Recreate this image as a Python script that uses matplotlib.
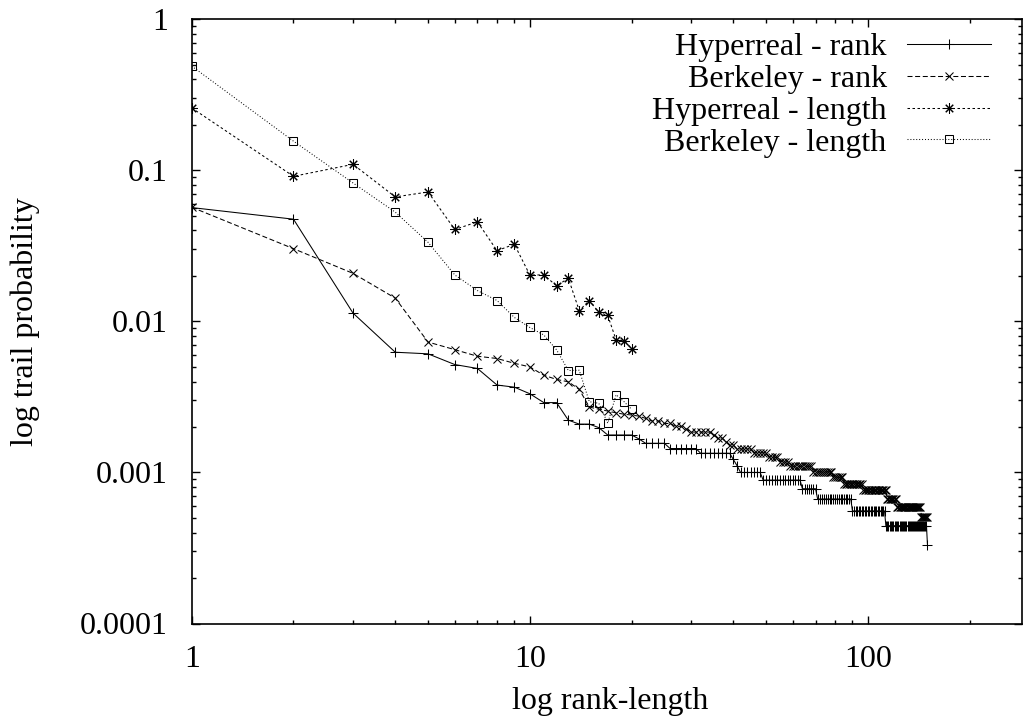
import numpy as np
import matplotlib
matplotlib.use("Agg")
import matplotlib.pyplot as plt
from matplotlib.ticker import LogLocator, FuncFormatter, NullFormatter

# Hyperreal - rank: probabilities as plateaus (value, number of ranks)
hyper_rank_levels = [0.0567, 0.0475, 0.01135, 0.00625, 0.0061, 0.00518, 0.00488, 0.00379,
                     0.00367, 0.00332, 0.0029, 0.0029, 0.00222, 0.00209, 0.00209, 0.00198,
                     0.00177, 0.00167, 0.00156, 0.00144, 0.00134, 0.00122, 0.00111, 0.001,
                     0.00089, 0.00078, 0.000667, 0.000556, 0.000444, 0.000333]
hyper_rank_runs = [1] * 16 + [4, 1, 4, 6, 8, 1, 1, 7, 15, 7, 19, 23, 37, 1]

# Berkeley - rank
berk_rank_levels = [0.057, 0.0303, 0.0208, 0.01426, 0.0073, 0.0065, 0.00588, 0.00568, 0.00528,
                    0.005, 0.0044, 0.00413, 0.00398, 0.00355, 0.00271, 0.00262, 0.00255, 0.00248,
                    0.00243, 0.0024, 0.00236, 0.00228, 0.00219, 0.00219, 0.00211, 0.00211,
                    0.00202, 0.00202, 0.00194,
                    0.00185, 0.00177, 0.00169, 0.0016, 0.00152, 0.00143, 0.00135, 0.00126,
                    0.00118, 0.0011, 0.00101, 0.00093, 0.00084, 0.00076, 0.00067, 0.00059, 0.00051]
berk_rank_runs = [1] * 29 + [5, 1, 2, 1, 2, 5, 5, 4, 4, 10, 10, 6, 12, 17, 8, 22, 7]

# length series, lengths 1..20
hyper_length = [0.259, 0.0913, 0.1096, 0.0667, 0.0719, 0.0406, 0.0456, 0.0294, 0.0324, 0.0203,
                0.0203, 0.0172, 0.0193, 0.0118, 0.01375, 0.01146, 0.01096, 0.00754, 0.00746, 0.00661]
berk_length = [0.49, 0.156, 0.0825, 0.0529, 0.0334, 0.0203, 0.016, 0.01375, 0.01062, 0.00912,
               0.00813, 0.00648, 0.00473, 0.00475, 0.00294, 0.00287, 0.00212, 0.00327, 0.00294, 0.00262]

hyper_rank = np.repeat(hyper_rank_levels, hyper_rank_runs)
berk_rank = np.repeat(berk_rank_levels, berk_rank_runs)

plt.rcParams['font.family'] = ['Liberation Serif', 'DejaVu Serif']
plt.rcParams['lines.scale_dashes'] = False

W, H = 1023, 719
fig = plt.figure(figsize=(W / 100, H / 100), dpi=100)
# plot box in pixels: left 191.7, right 1021.7, top 19.3, bottom 623.5
ax = fig.add_axes([191.7 / W, 1 - 623.5 / H, 830 / W, 604.2 / H])

lw = 0.75
ms = 7.5
ax.plot(np.arange(1, len(hyper_rank) + 1), hyper_rank, color='black', lw=lw,
        marker='+', ms=ms, mew=lw, label='Hyperreal - rank')
ax.plot(np.arange(1, len(berk_rank) + 1), berk_rank, color='black', lw=lw,
        ls=(0, (3.6, 1.9)), marker='x', ms=ms * 0.8, mew=lw, label='Berkeley - rank')
ax.plot(np.arange(1, len(hyper_length) + 1), hyper_length, color='black', lw=lw,
        ls=(0, (1.8, 1.8)), marker=(8, 2, 0), ms=ms, mew=lw, label='Hyperreal - length')
ax.plot(np.arange(1, len(berk_length) + 1), berk_length, color='black', lw=lw,
        ls=(0, (0.7, 1.4)), marker='s', ms=ms * 0.75, mew=lw, mfc='none', mec='black',
        label='Berkeley - length')

ax.set_xscale('log')
ax.set_yscale('log')
ax.set_xlim(1, 285)
ax.set_ylim(1e-4, 1)

fmt = FuncFormatter(lambda v, _: '{:g}'.format(v))
ax.xaxis.set_major_locator(LogLocator(base=10, numticks=10))
ax.yaxis.set_major_locator(LogLocator(base=10, numticks=10))
ax.xaxis.set_major_formatter(fmt)
ax.yaxis.set_major_formatter(fmt)
ax.xaxis.set_minor_locator(LogLocator(base=10, subs=np.arange(2, 10), numticks=20))
ax.yaxis.set_minor_locator(LogLocator(base=10, subs=np.arange(2, 10), numticks=20))
ax.xaxis.set_minor_formatter(NullFormatter())
ax.yaxis.set_minor_formatter(NullFormatter())

fs = 23
ax.tick_params(which='both', direction='in', top=True, right=True, labelsize=fs, width=1.0)
ax.tick_params(which='major', length=6)
ax.tick_params(which='minor', length=3)
ax.tick_params(axis='y', pad=17)
ax.tick_params(axis='x', pad=15.8)
for s in ax.spines.values():
    s.set_linewidth(1.2)

ax.set_xlabel('log rank-length', fontsize=fs)
ax.set_ylabel('log trail probability', fontsize=fs)
ax.xaxis.set_label_coords(0.504, -0.105)
ax.yaxis.set_label_coords(-0.183, 0.5)

ax.legend(loc='upper right', bbox_to_anchor=(1 - 17 / 830, 1), frameon=False,
          markerfirst=False, fontsize=fs, handlelength=2.63, handletextpad=0.635,
          labelspacing=0.075, borderaxespad=0.0, borderpad=0.43)

fig.savefig('out.png', dpi=100)
